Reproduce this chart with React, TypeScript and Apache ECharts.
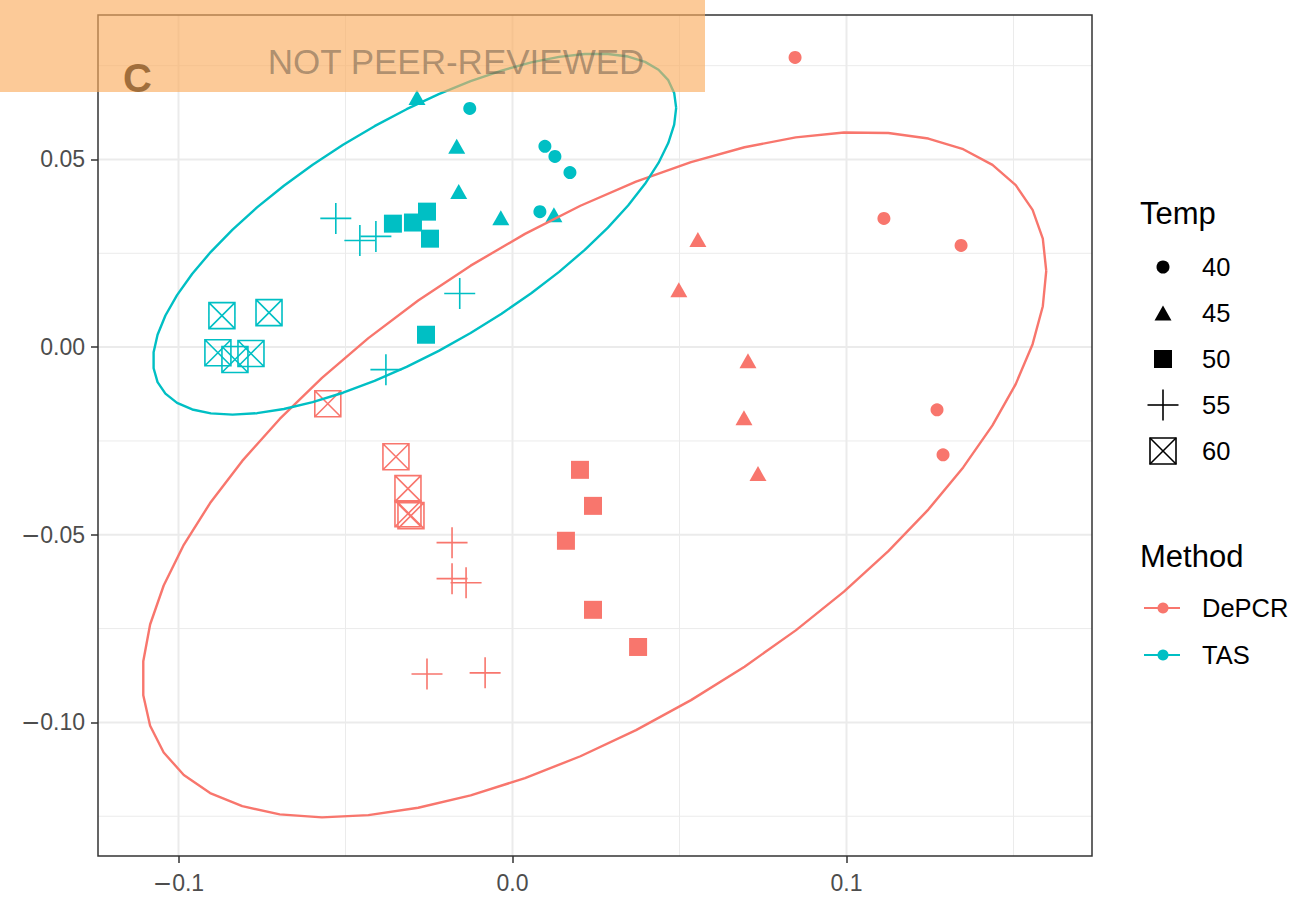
import React, { useEffect, useRef } from "react";
import * as echarts from "echarts";

// ---------- data ----------
const RED = "#F8766D";
const TEAL = "#00BFC4";
const FONT = '"Liberation Sans", Arial, Helvetica, sans-serif';

const temps = ["40", "45", "50", "55", "60"];
const methods = ["DePCR", "TAS"];

// axis ticks / labels
const xTicks = [-0.1, 0, 0.1];
const xTickLabels = ["{m|\u2212}0.1", "0.0", "0.1"];
const xMinor = [-0.05, 0.05, 0.15];
const yTicks = [-0.1, -0.05, 0, 0.05];
const yTickLabels = ["{m|\u2212}0.10", "{m|\u2212}0.05", "0.00", "0.05"];
const yMinor = [-0.125, -0.075, -0.025, 0.025, 0.075];
const X_MIN = -0.1241;
const X_MAX = 0.1735;
const Y_MIN = -0.1356;
const Y_MAX = 0.0885;

// TAS points [x, y]
const tas40 = [[-0.0128, 0.0636], [0.0097, 0.0535], [0.0127, 0.0508], [0.0172, 0.0465], [0.0082, 0.0361]];
const tas45 = [[-0.0286, 0.0665], [-0.0167, 0.0535], [-0.0161, 0.0415], [-0.0035, 0.0345], [0.0124, 0.0353]];
const tas50 = [[-0.0358, 0.0329], [-0.0298, 0.0332], [-0.0256, 0.0361], [-0.0247, 0.0289], [-0.0259, 0.0033]];
const tas55 = [[-0.0529, 0.0343], [-0.0457, 0.0284], [-0.0409, 0.0295], [-0.0158, 0.0143], [-0.0379, -0.006]];
const tas60 = [[-0.087, 0.0084], [-0.0729, 0.0092], [-0.0882, -0.0015], [-0.0831, -0.0033], [-0.0783, -0.0017]];

// DePCR points [x, y]
const depcr40 = [[0.0846, 0.0772], [0.1112, 0.0343], [0.1343, 0.0271], [0.1271, -0.0167], [0.1289, -0.0287]];
const depcr45 = [[0.0555, 0.0287], [0.0498, 0.0153], [0.0705, -0.0036], [0.0693, -0.0188], [0.0735, -0.0337]];
const depcr50 = [[0.0202, -0.0327], [0.0241, -0.0423], [0.016, -0.0516], [0.0241, -0.07], [0.0376, -0.0799]];
const depcr55 = [[-0.0181, -0.0521], [-0.0181, -0.0617], [-0.0139, -0.0628], [-0.0256, -0.0871], [-0.0082, -0.0868]];
const depcr60 = [[-0.0553, -0.0151], [-0.0349, -0.0292], [-0.0313, -0.0377], [-0.0313, -0.0444], [-0.0304, -0.0449]];

const tasData = [tas40, tas45, tas50, tas55, tas60];
const depcrData = [depcr40, depcr45, depcr50, depcr55, depcr60];

// confidence ellipses (center, half extents, phase)
const depcrEllipse = { cx: 0.0245, cy: -0.034, rx: 0.1353, ry: 0.0913, cosPhi: 0.595 };
const tasEllipse = { cx: -0.0293, cy: 0.0301, rx: 0.0783, ry: 0.0481, cosPhi: 0.7 };
const ELLIPSE_SEGMENTS = 51;

// ---------- styles ----------
const shapeStyles: Record<string, any> = {
  "40": { symbol: "circle", size: 13, filled: true },
  "45": { symbol: "triangle", size: [17, 15], filled: true },
  "50": { symbol: "rect", size: 18, filled: true },
  "55": { symbol: "path://M0,1L2,1M1,0L1,2", size: 31, filled: false },
  "60": { symbol: "path://M0,0L2,0L2,2L0,2ZM0,0L2,2M2,0L0,2", size: 26, filled: false },
};

function ellipsePoints(e: any) {
  const phi = Math.acos(e.cosPhi);
  const pts: number[][] = [];
  for (let i = 0; i <= ELLIPSE_SEGMENTS; i++) {
    const t = (2 * Math.PI * i) / ELLIPSE_SEGMENTS;
    pts.push([e.cx + e.rx * Math.cos(t), e.cy + e.ry * Math.cos(t + phi)]);
  }
  return pts;
}

function labelFor(ticks: number[], labels: string[]) {
  return (v: number) => {
    const i = ticks.findIndex((t) => Math.abs(t - v) < 1e-9);
    return i >= 0 ? labels[i] : "";
  };
}

function gridSeries() {
  const out: any[] = [];
  const mk = (data: number[][], width: number) => ({
    type: "line",
    data,
    symbol: "none",
    silent: true,
    z: 1,
    lineStyle: { color: "#EBEBEB", width },
  });
  yMinor.forEach((y) => out.push(mk([[X_MIN, y], [X_MAX, y]], 1)));
  xMinor.forEach((x) => out.push(mk([[x, Y_MIN], [x, Y_MAX]], 1)));
  yTicks.forEach((y) => out.push(mk([[X_MIN, y], [X_MAX, y]], 2)));
  xTicks.forEach((x) => out.push(mk([[x, Y_MIN], [x, Y_MAX]], 2)));
  return out;
}

function scatterSeries() {
  const out: any[] = [];
  methods.forEach((m) => {
    const color = m === "DePCR" ? RED : TEAL;
    const sets = m === "DePCR" ? depcrData : tasData;
    temps.forEach((t, i) => {
      const s = shapeStyles[t];
      out.push({
        type: "scatter",
        name: m + " " + t,
        data: sets[i],
        symbol: s.symbol,
        symbolSize: s.size,
        z: 3,
        itemStyle: s.filled
          ? { color, opacity: 1 }
          : { color: "rgba(0,0,0,0)", borderColor: color, borderWidth: 1.6, opacity: 1 },
      });
    });
  });
  return out;
}

function ellipseSeries() {
  return [
    { e: depcrEllipse, c: RED },
    { e: tasEllipse, c: TEAL },
  ].map((o) => ({
    type: "line",
    data: ellipsePoints(o.e),
    symbol: "none",
    silent: true,
    z: 4,
    lineStyle: { color: o.c, width: 2.4 },
  }));
}

function legendGraphics() {
  const els: any[] = [];
  const sx = 1163;
  const tx = 1202;
  const ys = [267, 313, 359, 405, 451];
  const textStyle = (text: string, x: number, y: number, size: number) => ({
    type: "text",
    z: 50,
    style: {
      text,
      x,
      y,
      font: `${size}px ${FONT}`,
      fill: "#000000",
      textAlign: "left",
      textVerticalAlign: "middle",
      align: "left",
      verticalAlign: "middle",
    },
  });
  els.push(textStyle("Temp", 1140, 213, 31));
  temps.forEach((t, i) => {
    els.push(textStyle(t, tx, ys[i], 25.5));
  });
  els.push({ type: "circle", z: 50, shape: { cx: sx, cy: ys[0], r: 6.5 }, style: { fill: "#000" } });
  els.push({
    type: "polygon",
    z: 50,
    shape: { points: [[sx, ys[1] - 7.5], [sx + 8.5, ys[1] + 7.5], [sx - 8.5, ys[1] + 7.5]] },
    style: { fill: "#000" },
  });
  els.push({ type: "rect", z: 50, shape: { x: sx - 9, y: ys[2] - 9, width: 18, height: 18 }, style: { fill: "#000" } });
  els.push({ type: "line", z: 50, shape: { x1: sx - 15.5, y1: ys[3], x2: sx + 15.5, y2: ys[3] }, style: { stroke: "#000", lineWidth: 1.6 } });
  els.push({ type: "line", z: 50, shape: { x1: sx, y1: ys[3] - 15.5, x2: sx, y2: ys[3] + 15.5 }, style: { stroke: "#000", lineWidth: 1.6 } });
  els.push({ type: "rect", z: 50, shape: { x: sx - 13, y: ys[4] - 13, width: 26, height: 26 }, style: { fill: "none", stroke: "#000", lineWidth: 1.6 } });
  els.push({ type: "line", z: 50, shape: { x1: sx - 13, y1: ys[4] - 13, x2: sx + 13, y2: ys[4] + 13 }, style: { stroke: "#000", lineWidth: 1.6 } });
  els.push({ type: "line", z: 50, shape: { x1: sx + 13, y1: ys[4] - 13, x2: sx - 13, y2: ys[4] + 13 }, style: { stroke: "#000", lineWidth: 1.6 } });

  els.push(textStyle("Method", 1140, 556, 31));
  const my = [608, 655];
  methods.forEach((m, i) => {
    const c = m === "DePCR" ? RED : TEAL;
    els.push({ type: "line", z: 50, shape: { x1: sx - 19, y1: my[i], x2: sx + 17, y2: my[i] }, style: { stroke: c, lineWidth: 2.2 } });
    els.push({ type: "circle", z: 51, shape: { cx: sx, cy: my[i], r: 5.5 }, style: { fill: c } });
    els.push(textStyle(m, tx, my[i], 25.5));
  });
  return els;
}

function bannerGraphics() {
  return [
    {
      type: "text",
      z: 90,
      style: {
        text: "C",
        x: 123,
        y: 78,
        font: `bold 40px ${FONT}`,
        fill: "#000000",
        textAlign: "left",
        textVerticalAlign: "middle",
        align: "left",
        verticalAlign: "middle",
      },
    },
    {
      type: "rect",
      z: 95,
      shape: { x: 0, y: 0, width: 705, height: 92 },
      style: { fill: "rgba(250,172,94,0.64)" },
    },
    {
      type: "text",
      z: 96,
      style: {
        text: "NOT PEER-REVIEWED",
        x: 456,
        y: 61,
        font: `35px ${FONT}`,
        fill: "rgba(80,70,60,0.45)",
        textAlign: "center",
        textVerticalAlign: "middle",
        align: "center",
        verticalAlign: "middle",
      },
    },
  ];
}

const minusRich = { m: { fontFamily: '"DejaVu Sans"', fontSize: 23, color: "#4D4D4D" } };

export default function App() {
  const ref = useRef<HTMLDivElement>(null);
  useEffect(() => {
    if (!ref.current) return;
    const chart = echarts.init(ref.current, undefined, { renderer: "svg" });
    chart.setOption({
      animation: false,
      backgroundColor: "#ffffff",
      grid: {
        left: 98,
        right: 214,
        top: 15,
        bottom: 46,
        show: true,
        borderColor: "#333333",
        borderWidth: 1.5,
        backgroundColor: "transparent",
        z: 5,
      },
      xAxis: {
        type: "value",
        position: "bottom",
        min: X_MIN,
        max: X_MAX,
        splitLine: { show: false },
        axisLine: { show: false, onZero: false },
        axisTick: { show: true, customValues: xTicks, length: 7, lineStyle: { color: "#333333", width: 1.5 } },
        axisLabel: {
          customValues: xTicks,
          formatter: labelFor(xTicks, xTickLabels),
          color: "#4D4D4D",
          fontSize: 23,
          fontFamily: FONT,
          margin: 15,
          rich: minusRich,
        },
      },
      yAxis: {
        type: "value",
        position: "left",
        min: Y_MIN,
        max: Y_MAX,
        splitLine: { show: false },
        axisLine: { show: false, onZero: false },
        axisTick: { show: true, customValues: yTicks, length: 7, lineStyle: { color: "#333333", width: 1.5 } },
        axisLabel: {
          customValues: yTicks,
          formatter: labelFor(yTicks, yTickLabels),
          color: "#4D4D4D",
          fontSize: 23,
          fontFamily: FONT,
          margin: 13,
          rich: minusRich,
        },
      },
      series: [...gridSeries(), ...scatterSeries(), ...ellipseSeries()],
      graphic: { elements: [...legendGraphics(), ...bannerGraphics()] },
    });
    return () => chart.dispose();
  }, []);
  return (
    <div
      ref={ref}
      style={{ position: "fixed", left: 0, top: 0, width: 1306, height: 902 }}
    />
  );
}
